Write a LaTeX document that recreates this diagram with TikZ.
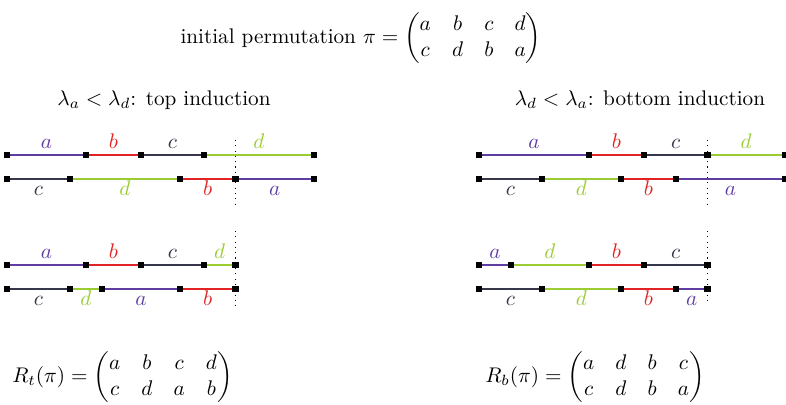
\documentclass[tikz,border=0pt]{standalone}
\usepackage{amsmath}
\definecolor{ca}{RGB}{95,60,160}
\definecolor{cb}{RGB}{225,35,35}
\definecolor{cc}{RGB}{55,55,75}
\definecolor{cd}{RGB}{155,205,50}
\begin{document}
\begin{tikzpicture}[x=0.472pt,y=-0.472pt,
  sq/.style={fill=black,inner sep=0pt,minimum size=2.9pt,rectangle},
  seg/.style={line width=0.5pt},
  up/.style={anchor=base,yshift=3.3pt,inner sep=0pt},
  dn/.style={anchor=base,yshift=-8.0pt,inner sep=0pt},
  vline/.style={dotted,line width=0.5pt}]
\useasboundingbox (0,0) rectangle (786,404);

% texts
\node[inner sep=0pt] (title) at (361,38.5) {initial permutation $\pi=\begin{pmatrix}a&b&c&d\\c&d&b&a\end{pmatrix}$};
\node[anchor=base] (hl) at (164,105) {$\lambda_a<\lambda_d$: top induction};
\node[anchor=base] (hr) at (640,105) {$\lambda_d<\lambda_a$: bottom induction};
\node (rt) at (122.5,377.5) {$R_t(\pi)=\begin{pmatrix}a&b&c&d\\c&d&a&b\end{pmatrix}$};
\node (rb) at (595,377.5) {$R_b(\pi)=\begin{pmatrix}a&d&b&c\\c&d&b&a\end{pmatrix}$};

% dotted lines
\coordinate (v1a) at (235.5,140); \coordinate (v1b) at (235.5,207);
\coordinate (v2a) at (235.5,231); \coordinate (v2b) at (235.5,309);
\coordinate (v3a) at (707.5,140); \coordinate (v3b) at (707.5,207);
\coordinate (v4a) at (707.5,231); \coordinate (v4b) at (707.5,304);
\draw[vline] (v1a) -- (v1b);
\draw[vline] (v2a) -- (v2b);
\draw[vline] (v3a) -- (v3b);
\draw[vline] (v4a) -- (v4b);

% left, first
\foreach \n/\x in {0/7,1/86,2/141,3/204,4/314} \node[sq] (A\n) at (\x,155) {};
\foreach \n/\x in {0/7,1/70,2/180,3/235.5,4/314} \node[sq] (B\n) at (\x,179) {};
\draw[seg,ca] (A0) -- node[up]{$a$} (A1);
\draw[seg,cb] (A1) -- node[up]{$b$} (A2);
\draw[seg,cc] (A2) -- node[up]{$c$} (A3);
\draw[seg,cd] (A3) -- node[up]{$d$} (A4);
\draw[seg,cc] (B0) -- node[dn]{$c$} (B1);
\draw[seg,cd] (B1) -- node[dn]{$d$} (B2);
\draw[seg,cb] (B2) -- node[dn]{$b$} (B3);
\draw[seg,ca] (B3) -- node[dn]{$a$} (B4);

% left, second
\foreach \n/\x in {0/7,1/86,2/141,3/204,4/235.5} \node[sq] (C\n) at (\x,265) {};
\foreach \n/\x in {0/7,1/70,2/102,3/180,4/235.5} \node[sq] (D\n) at (\x,289) {};
\draw[seg,ca] (C0) -- node[up]{$a$} (C1);
\draw[seg,cb] (C1) -- node[up]{$b$} (C2);
\draw[seg,cc] (C2) -- node[up]{$c$} (C3);
\draw[seg,cd] (C3) -- node[up]{$d$} (C4);
\draw[seg,cc] (D0) -- node[dn]{$c$} (D1);
\draw[seg,cd] (D1) -- node[dn]{$d$} (D2);
\draw[seg,ca] (D2) -- node[dn]{$a$} (D3);
\draw[seg,cb] (D3) -- node[dn]{$b$} (D4);

% right, first
\foreach \n/\x in {0/479,1/589,2/644,3/707.5,4/785} \node[sq] (E\n) at (\x,155) {};
\foreach \n/\x in {0/479,1/542,2/621,3/676,4/785} \node[sq] (F\n) at (\x,179) {};
\draw[seg,ca] (E0) -- node[up]{$a$} (E1);
\draw[seg,cb] (E1) -- node[up]{$b$} (E2);
\draw[seg,cc] (E2) -- node[up]{$c$} (E3);
\draw[seg,cd] (E3) -- node[up]{$d$} (E4);
\draw[seg,cc] (F0) -- node[dn]{$c$} (F1);
\draw[seg,cd] (F1) -- node[dn]{$d$} (F2);
\draw[seg,cb] (F2) -- node[dn]{$b$} (F3);
\draw[seg,ca] (F3) -- node[dn]{$a$} (F4);

% right, second
\foreach \n/\x in {0/479,1/511,2/589,3/644,4/707.5} \node[sq] (G\n) at (\x,265) {};
\foreach \n/\x in {0/479,1/542,2/621,3/676,4/707.5} \node[sq] (H\n) at (\x,289) {};
\draw[seg,ca] (G0) -- node[up]{$a$} (G1);
\draw[seg,cd] (G1) -- node[up]{$d$} (G2);
\draw[seg,cb] (G2) -- node[up]{$b$} (G3);
\draw[seg,cc] (G3) -- node[up]{$c$} (G4);
\draw[seg,cc] (H0) -- node[dn]{$c$} (H1);
\draw[seg,cd] (H1) -- node[dn]{$d$} (H2);
\draw[seg,cb] (H2) -- node[dn]{$b$} (H3);
\draw[seg,ca] (H3) -- node[dn]{$a$} (H4);
\end{tikzpicture}
\end{document}
